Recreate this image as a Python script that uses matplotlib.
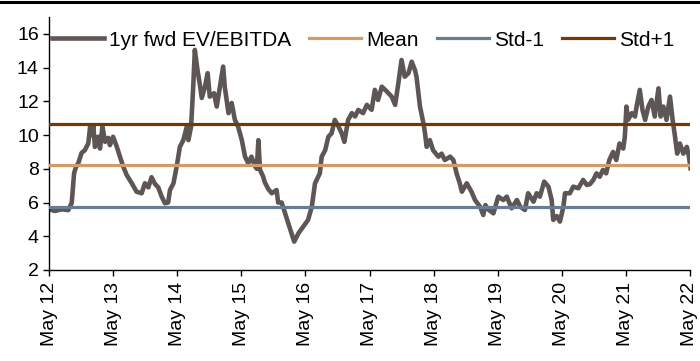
import matplotlib
matplotlib.use("Agg")
import matplotlib.pyplot as plt
from matplotlib.lines import Line2D

plt.rcParams['font.family'] = ['Liberation Sans', 'DejaVu Sans']

# Months elapsed since May 2012
month_offset = [
    0, 1.1, 2.4, 3.6, 4.25, 4.7, 5.05, 5.5, 6.1, 6.7, 7.35, 7.7, 7.95, 8.3, 8.6,
    9.2, 9.55, 10.0, 10.5, 11.1, 11.4, 12.0, 12.7, 13.3, 13.9, 14.55, 15.5, 16.4,
    17.35, 17.95, 18.6, 19.2, 19.85, 20.45, 21.1, 21.7, 22.3, 22.65, 23.3, 23.9,
    24.5, 25.15, 25.8, 26.1, 26.6, 27.0, 27.3, 27.8, 28.3, 28.6, 29.2, 29.7, 30.1,
    30.9, 31.4, 32.0, 32.6, 32.9, 33.6, 34.2, 34.8, 35.4, 36.1, 36.7, 37.3, 37.9,
    38.6, 38.9, 39.2, 39.5, 40.1, 40.4, 41.05, 41.7, 42.6, 42.9, 43.55, 44.2, 44.8,
    45.4, 45.9, 46.7, 47.6, 48.5, 49.2, 49.8, 50.7, 51.05, 51.7, 52.3, 52.9, 53.5,
    54.2, 54.8, 55.3, 56.0, 56.7, 57.3, 57.9, 58.8, 59.5, 60.4, 61.0, 61.6, 62.3,
    63.2, 64.15, 64.8, 65.4, 66.0, 66.6, 67.3, 67.9, 68.5, 68.8, 69.45, 70.1, 70.4,
    70.7, 71.3, 71.9, 72.9, 73.5, 74.1, 75.1, 75.7, 76.3, 76.9, 77.3, 78.2, 79.1,
    79.75, 80.7, 81.3, 81.7, 82.2, 83.2, 84.1, 85.05, 85.7, 86.6, 87.6, 88.2, 89.1,
    89.7, 90.7, 91.3, 91.9, 92.7, 93.5, 94.1, 94.4, 95.05, 95.65, 96.3, 96.6, 97.5,
    98.15, 99.1, 100.0, 100.7, 101.3, 101.9, 102.5, 103.1, 103.7, 104.3, 104.9,
    105.6, 106.2, 106.8, 107.5, 107.8, 108.1, 108.4, 109.1, 109.7, 110.0, 110.6,
    111.1, 111.6, 112.2, 112.8, 113.4, 114.1, 114.5, 115.0, 115.6, 116.25, 116.75,
    117.2, 117.6, 118.1, 118.75, 119.4, 119.8, 120.1,
]

ev_ebitda = [
    5.6, 5.5, 5.6, 5.55, 5.97, 7.75, 8.1, 8.35, 8.94, 9.1, 9.5, 10.5, 10.0, 10.54, 9.3,
    9.9, 9.2, 10.5, 9.6, 9.83, 9.4, 9.9, 9.3, 8.7, 8.13, 7.63, 7.14, 6.64,
    6.55, 7.14, 6.9, 7.5, 7.1, 6.9, 6.35, 5.96, 6.0, 6.74, 7.14, 8.13,
    9.3, 9.7, 10.5, 9.7, 10.5, 12.87, 15.05, 13.86, 12.87, 12.2, 12.87, 13.67, 12.28,
    12.48, 11.69, 12.87, 14.06, 12.87, 11.3, 11.9, 10.9, 10.5, 9.7, 8.72, 8.33, 8.72,
    8.13, 8.0, 9.7, 7.94, 7.53, 7.2, 6.8, 6.55, 6.74, 6.0, 6.0, 5.36, 4.77,
    4.18, 3.68, 4.18, 4.57, 4.97, 5.75, 7.14, 7.73, 8.72, 9.1, 9.9, 10.1, 10.9,
    10.5, 10.1, 9.6, 10.9, 11.3, 11.1, 11.49, 11.3, 11.79, 11.5, 12.68, 12.08, 12.87,
    12.6, 12.28, 11.79, 13.07, 14.45, 13.46, 13.67, 14.35, 13.86, 13.46, 11.69, 10.7, 10.1,
    9.3, 9.7, 9.1, 8.72, 8.9, 8.52, 8.72, 8.52, 7.73, 7.14, 6.64, 7.14, 6.64,
    6.15, 5.75, 5.26, 5.85, 5.6, 5.36, 6.35, 6.15, 6.35, 5.66, 6.15, 5.75, 5.56,
    6.55, 6.05, 6.55, 6.35, 7.24, 6.94, 6.15, 4.97, 5.2, 4.87, 5.75, 6.55, 6.55,
    6.94, 6.85, 7.34, 7.04, 7.1, 7.34, 7.73, 7.53, 7.93, 7.73, 8.52,
    9.0, 8.52, 9.5, 9.2, 9.9, 11.69, 10.9, 11.3, 11.1, 11.69, 12.68,
    11.5, 10.9, 11.69, 12.08, 11.1, 12.77, 11.1, 11.69, 10.9, 12.28, 10.9,
    9.9, 8.9, 9.5, 8.9, 9.3, 8.72, 8.03,
]

mean_level = 8.21
std_minus_1 = 5.75
std_plus_1 = 10.68

tick_months = [0, 12, 24, 36, 48, 60, 72, 84, 96, 108, 120]
tick_labels = ['May 12', 'May 13', 'May 14', 'May 15', 'May 16', 'May 17',
               'May 18', 'May 19', 'May 20', 'May 21', 'May 22']
y_ticks = [2, 4, 6, 8, 10, 12, 14, 16]

series_color = '#5e5654'
mean_color = '#d29c66'
low_color = '#677c95'
high_color = '#713808'

fig = plt.figure(figsize=(7.0, 3.61), dpi=100)
ax = fig.add_axes([49 / 700, 1 - 270 / 361, (690 - 49) / 700, (270 - 17) / 361])

span = [tick_months[0], tick_months[-1]]
ax.plot(month_offset, ev_ebitda, color=series_color, lw=3.3,
        solid_joinstyle='round', label='1yr fwd EV/EBITDA', zorder=2)
ax.plot(span, [mean_level] * 2, color=mean_color, lw=2.3, label='Mean', zorder=3)
ax.plot(span, [std_minus_1] * 2, color=low_color, lw=2.3, label='Std-1', zorder=3)
ax.plot(span, [std_plus_1] * 2, color=high_color, lw=2.3, label='Std+1', zorder=3)

ax.set_xlim(0, 120)
ax.set_ylim(2, 17)
ax.set_xticks(tick_months)
ax.set_xticklabels(tick_labels, rotation=90, fontsize=14)
ax.set_yticks(y_ticks)
ax.set_yticklabels([str(v) for v in y_ticks], fontsize=14)
ax.tick_params(axis='both', direction='out', length=4.3, width=1, color='black')
ax.tick_params(axis='y', pad=3)
ax.tick_params(axis='x', pad=4.5)

for side in ('top', 'right'):
    ax.spines[side].set_visible(False)
for side in ('left', 'bottom'):
    ax.spines[side].set_color('black')
    ax.spines[side].set_linewidth(1.0)

fig.legend(loc='center left', bbox_to_anchor=(52 / 700, 1 - 40 / 361),
           ncol=4, frameon=False, fontsize=15, handlelength=2.5,
           handletextpad=0.25, columnspacing=0.85, borderpad=0, borderaxespad=0)

# rule across the top of the figure
fig.add_artist(Line2D([0, 1], [1 - 2 / 361, 1 - 2 / 361], color='black', lw=2.2,
                      transform=fig.transFigure))

fig.savefig('out.png', dpi=100)
